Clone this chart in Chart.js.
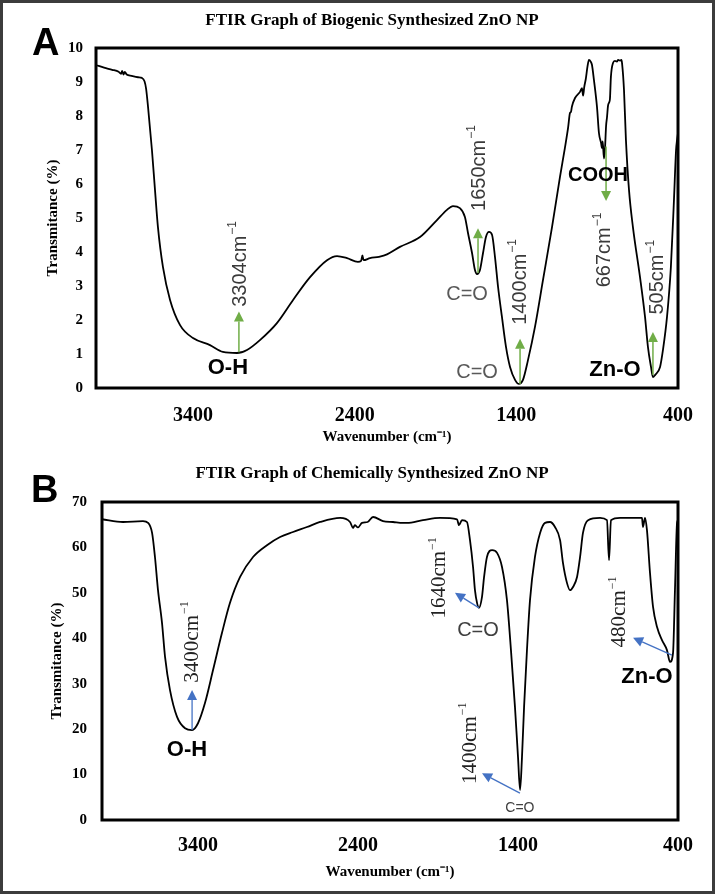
<!DOCTYPE html>
<html><head><meta charset="utf-8">
<script src="https://cdn.jsdelivr.net/npm/chart.js@4.4.0/dist/chart.umd.min.js"></script>
<style>
html,body{margin:0;padding:0;background:#fff;overflow:hidden;width:715px;height:894px;}
.wrap{position:absolute;left:0;width:744px;}
#w1{top:0;height:450px;}
#w2{top:440px;height:454px;}
#frame{position:absolute;left:0;top:0;width:709px;height:888px;border:3px solid #3c3c3c;pointer-events:none;}
.letter{position:absolute;font:bold 38px 'Liberation Sans',Arial,sans-serif;line-height:1;color:#000;}
</style></head>
<body>
<div class="wrap" id="w1"><canvas id="c1" width="744" height="450"></canvas></div>
<div class="wrap" id="w2"><canvas id="c2" width="744" height="454"></canvas></div>
<div id="frame"></div>
<div class="letter" style="left:32px;top:23px">A</div>
<div class="letter" style="left:31px;top:470px">B</div>
<script>
// ---------- DATA ----------
const xTickValues = [3400, 2400, 1400, 400];

const bioWave = [4000,3950,3900,3860,3845,3838,3830,3822,3810,3780,3740,3716,3700,3690,3678,3654,3635,3617,3586,3542,3480,3400,3295,3215,3128,3066,2986,2881,2781,2676,2571,2509,2447,2380,2360,2352,2345,2305,2250,2200,2120,1996,1891,1829,1792,1749,1718,1699,1674,1656,1643,1625,1606,1588,1569,1550,1532,1513,1489,1464,1439,1408,1384,1359,1328,1285,1235,1179,1130,1100,1080,1068,1062,1056,1037,1006,994,987,980,970,960,951,940,932,920,901,889,876,870,866,858,852,845,839,833,826,821,815,802,790,778,770,759,750,746,734,722,703,679,635,604,586,567,555,542,511,493,468,444,425,412,406,400];
const bioTrans = [9.50,9.42,9.36,9.30,9.24,9.33,9.22,9.30,9.22,9.18,9.14,9.12,9.02,8.80,8.26,7.00,5.82,4.74,3.56,2.59,1.85,1.47,1.26,1.06,1.03,1.12,1.41,1.91,2.59,3.26,3.76,3.88,3.82,3.71,3.74,3.90,3.76,3.82,3.86,3.93,4.15,4.44,4.94,5.24,5.35,5.29,5.03,4.56,3.97,3.47,3.35,3.47,3.97,4.44,4.59,4.50,3.85,2.97,2.09,1.21,0.62,0.24,0.12,0.24,0.82,1.79,3.18,4.74,6.21,7.05,7.65,8.09,8.12,8.28,8.53,8.71,8.82,8.60,8.85,9.10,9.45,9.65,9.60,9.50,9.06,8.26,7.50,7.21,7.06,7.25,6.75,7.00,7.70,7.97,8.30,8.40,8.50,9.15,9.56,9.62,9.60,9.65,9.63,9.65,9.55,8.76,7.29,5.82,4.74,3.26,2.09,1.21,0.62,0.32,0.38,0.62,1.12,2.09,3.56,5.53,7.00,7.29,7.50];

const chemWave = [4000,3869,3744,3712,3687,3669,3650,3625,3606,3575,3531,3481,3437,3400,3356,3306,3250,3200,3137,3056,2969,2887,2806,2719,2637,2512,2450,2431,2420,2400,2375,2340,2306,2244,2181,2119,2094,1994,1887,1781,1769,1750,1719,1700,1681,1669,1656,1644,1625,1612,1594,1562,1531,1500,1469,1444,1419,1400,1387,1375,1362,1344,1325,1294,1262,1231,1200,1169,1137,1119,1094,1075,1056,1031,1012,994,962,887,844,831,819,762,625,619,606,594,575,556,531,500,469,450,431,419,406,400];
const chemTrans = [66.2,65.6,65.8,65.4,63.2,57.9,50.6,43.4,35.9,28.6,22.7,20.2,19.8,21.3,25.8,33.0,41.2,47.8,53.5,57.9,60.5,62.3,63.4,64.5,65.6,66.5,65.6,64.3,64.9,64.4,65.4,65.6,66.7,65.8,65.6,65.4,65.4,66.0,66.5,66.2,64.9,66.0,65.6,61.6,55.7,50.6,47.8,46.7,49.1,53.5,57.9,59.4,58.8,55.7,48.4,37.4,24.9,13.9,6.6,13.9,24.9,37.4,48.4,57.9,63.2,65.4,65.6,64.5,61.6,56.6,52.2,50.6,51.3,53.5,57.9,63.2,66.0,66.5,66.0,57.2,66.0,66.5,66.5,64.5,66.5,63.8,54.4,46.9,42.5,39.6,37.4,34.8,36.8,50.6,65.4,66.0];

// ---------- STYLE / ANNOTATIONS ----------
const SERIF = "'Liberation Serif','Times New Roman',serif";
const SANS = "'Liberation Sans',Arial,sans-serif";
const GREEN = '#70AD47', BLUE = '#4472C4';

function rotLabel(x, y, text, font, supFont, supRise, color){
  return {type:'text', x, y, text, sup:'\u22121', rot:true, font, supFont, supRise, color};
}
const bioNotes = [
  {type:'arrow', x1:3116, y1:1.05, x2:3116, y2:2.25, color:GREEN},
  {type:'arrow', x1:1637, y1:3.38, x2:1637, y2:4.70, color:GREEN},
  {type:'arrow', x1:1377, y1:0.12, x2:1377, y2:1.45, color:GREEN},
  {type:'arrow', x1:845, y1:7.10, x2:845, y2:5.50, color:GREEN},
  {type:'arrow', x1:555, y1:0.38, x2:555, y2:1.65, color:GREEN},
  rotLabel(3109, 3.65, '3304cm', '20px '+SANS, '12px '+SANS, 7, '#3a3a3a'),
  rotLabel(1631, 6.47, '1650cm', '20px '+SANS, '12px '+SANS, 7, '#3a3a3a'),
  rotLabel(1377, 3.12, '1400cm', '20px '+SANS, '12px '+SANS, 7, '#3a3a3a'),
  rotLabel(852, 4.06, '667cm', '20px '+SANS, '12px '+SANS, 7, '#3a3a3a'),
  rotLabel(524, 3.26, '505cm', '20px '+SANS, '12px '+SANS, 7, '#3a3a3a'),
  {type:'text', x:3184, y:0.59, text:'O-H', font:'bold 22px '+SANS, color:'#000'},
  {type:'text', x:1705, y:2.74, text:'C=O', font:'20px '+SANS, color:'#595959'},
  {type:'text', x:1643, y:0.47, text:'C=O', font:'20px '+SANS, color:'#595959'},
  {type:'text', x:895, y:6.26, text:'COOH', font:'bold 20px '+SANS, color:'#000'},
  {type:'text', x:790, y:0.53, text:'Zn-O', font:'bold 22px '+SANS, color:'#000'}
];
const chemNotes = [
  {type:'arrow', x1:3437, y1:19.8, x2:3437, y2:28.6, color:BLUE, lw:1.3},
  {type:'arrow', x1:1644, y1:46.7, x2:1794, y2:50.0, color:BLUE, lw:1.3},
  {type:'arrow', x1:1388, y1:5.9, x2:1625, y2:10.3, color:BLUE, lw:1.3},
  {type:'arrow', x1:438, y1:36.3, x2:681, y2:40.1, color:BLUE, lw:1.3},
  rotLabel(3437, 39.2, '3400cm', '21px '+SERIF, '12px '+SERIF, 7, '#222'),
  rotLabel(1888, 53.3, '1640cm', '21px '+SERIF, '12px '+SERIF, 7, '#222'),
  rotLabel(1700, 16.9, '1400cm', '21px '+SERIF, '12px '+SERIF, 7, '#222'),
  rotLabel(763, 45.8, '480cm', '21px '+SERIF, '12px '+SERIF, 7, '#222'),
  {type:'text', x:3469, y:15.4, text:'O-H', font:'bold 22px '+SANS, color:'#000'},
  {type:'text', x:1650, y:41.8, text:'C=O', font:'20px '+SANS, color:'#404040'},
  {type:'text', x:1388, y:2.6, text:'C=O', font:'14px '+SANS, color:'#404040'},
  {type:'text', x:594, y:31.5, text:'Zn-O', font:'bold 22px '+SANS, color:'#000'}
];

// ---------- PLUGINS ----------
const boxPlugin = {
  id:'plotBox',
  afterDatasetsDraw(chart){
    const {ctx, chartArea:a} = chart;
    ctx.save(); ctx.lineWidth = 3; ctx.strokeStyle = '#000';
    ctx.strokeRect(a.left, a.top, a.right - a.left, a.bottom - a.top);
    ctx.restore();
  }
};
const notesPlugin = {
  id:'notes',
  afterDatasetsDraw(chart){
    const o = chart.options.plugins.notes; if(!o || !o.items) return;
    const {ctx} = chart; const xs = chart.scales.x, ys = chart.scales.y;
    ctx.save();
    o.items.forEach(it => {
      if(it.type === 'arrow'){
        const x1 = xs.getPixelForValue(it.x1), y1 = ys.getPixelForValue(it.y1);
        const x2 = xs.getPixelForValue(it.x2), y2 = ys.getPixelForValue(it.y2);
        const ang = Math.atan2(y2 - y1, x2 - x1), hl = 10, hw = 5;
        const bx = x2 - hl*Math.cos(ang), by = y2 - hl*Math.sin(ang);
        ctx.strokeStyle = it.color; ctx.lineWidth = it.lw || 1.5;
        ctx.beginPath(); ctx.moveTo(x1, y1); ctx.lineTo(bx, by); ctx.stroke();
        ctx.fillStyle = it.color; ctx.beginPath(); ctx.moveTo(x2, y2);
        ctx.lineTo(bx + hw*Math.sin(ang), by - hw*Math.cos(ang));
        ctx.lineTo(bx - hw*Math.sin(ang), by + hw*Math.cos(ang));
        ctx.closePath(); ctx.fill();
      } else {
        const px = xs.getPixelForValue(it.x), py = ys.getPixelForValue(it.y);
        ctx.save(); ctx.translate(px, py); if(it.rot) ctx.rotate(-Math.PI/2);
        ctx.fillStyle = it.color; ctx.textBaseline = 'middle'; ctx.textAlign = 'left';
        ctx.font = it.font; const w1 = ctx.measureText(it.text).width;
        let w2 = 0; if(it.sup){ ctx.font = it.supFont; w2 = ctx.measureText(it.sup).width + 1; }
        const start = -(w1 + w2)/2;
        ctx.font = it.font; ctx.fillText(it.text, start, 0);
        if(it.sup){ ctx.font = it.supFont; ctx.fillText(it.sup, start + w1 + 1, -it.supRise); }
        ctx.restore();
      }
    });
    ctx.restore();
  }
};

function build(id, c){
  return new Chart(document.getElementById(id), {
    type:'line',
    data:{datasets:[{data:c.wave.map((w,i)=>({x:w, y:c.trans[i]})), borderColor:'#000', borderWidth:1.8,
      pointRadius:0, fill:false, cubicInterpolationMode:'monotone'}]},
    options:{
      responsive:false, animation:false, events:[],
      layout:{padding:0},
      plugins:{
        legend:{display:false}, tooltip:{enabled:false},
        title:{display:true, text:c.title, color:'#000', font:{family:SERIF, size:17, weight:'bold'},
          padding:{top:c.tPadT, bottom:c.tPadB}},
        notes:{items:c.notes}
      },
      scales:{
        x:{type:'linear', reverse:true, min:400, max:4000,
          grid:{display:false, drawTicks:false}, border:{display:false},
          afterBuildTicks:s => { s.ticks = xTickValues.map(v => ({value:v})); },
          ticks:{color:'#000', font:{family:SERIF, size:20, weight:'bold'}, padding:c.xPad, maxRotation:0, autoSkip:false,
            callback:v => String(v)},
          title:{display:true, text:'Wavenumber (cm\u207B\u00B9)', color:'#000', font:{family:SERIF, size:15, weight:'bold'},
            padding:{top:0, bottom:c.xTitlePad}},
          afterFit:s => { s.height = c.xH; }},
        y:{type:'linear', min:0, max:c.yMax,
          grid:{display:false, drawTicks:false}, border:{display:false},
          ticks:{stepSize:c.yStep, color:'#000', font:{family:SERIF, size:15, weight:'bold'}, padding:c.yPad},
          title:{display:true, text:'Transmitance (%)', color:'#000', font:{family:SERIF, size:15, weight:'bold'},
            padding:{top:c.yTitlePad, bottom:0}},
          afterFit:s => { s.width = c.yW; }},
        yR:{type:'linear', position:'right', min:0, max:1, display:true,
          grid:{display:false, drawTicks:false}, border:{display:false}, ticks:{display:false},
          afterFit:s => { s.width = 66; }}
      }
    },
    plugins:[boxPlugin, notesPlugin]
  });
}

build('c1', {wave:bioWave, trans:bioTrans, notes:bioNotes, title:'FTIR Graph of Biogenic Synthesized ZnO NP',
  tPadT:10.8, tPadB:16.8, xPad:16, xTitlePad:4, xH:62, yMax:10, yStep:1, yPad:13, yTitlePad:44, yW:96});
build('c2', {wave:chemWave, trans:chemTrans, notes:chemNotes, title:'FTIR Graph of Chemically Synthesized ZnO NP',
  tPadT:23.8, tPadB:17.8, xPad:14, xTitlePad:13, xH:74, yMax:70, yStep:10, yPad:15, yTitlePad:48, yW:102});
</script>
</body></html>
